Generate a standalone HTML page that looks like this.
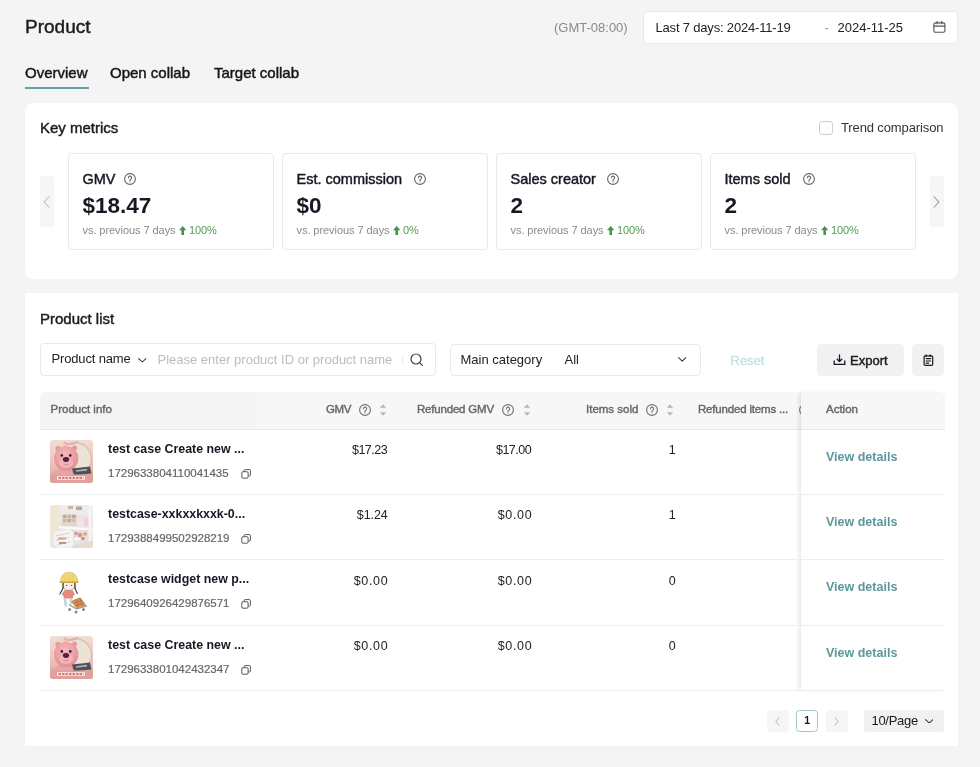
<!DOCTYPE html>
<html><head><meta charset="utf-8">
<style>
*{box-sizing:border-box;margin:0;padding:0}
html,body{width:980px;height:767px;overflow:hidden}
body{background:#f4f4f4;font-family:"Liberation Sans",Arial,sans-serif;color:#161823;position:relative}
.a{position:absolute;white-space:nowrap;line-height:1}
.med{-webkit-text-stroke:0.45px currentColor}
.card{position:absolute;background:#fff}
.box{position:absolute;border:1px solid #e9e9e9;border-radius:4px;background:#fff}
.mc{position:absolute;top:153px;width:206px;height:97px;border:1px solid #e8e8e8;border-radius:4px;background:#fff}
.mc .t{position:absolute;left:14px;top:17.5px;font-size:14.5px;line-height:1;white-space:nowrap}
.mc .v{position:absolute;left:14px;top:40.8px;font-size:22.5px;font-weight:700;line-height:1}
.mc .s{position:absolute;left:14px;top:71.4px;font-size:11px;color:#8a8a8a;letter-spacing:-.06px;line-height:1;white-space:nowrap}
.mc .s b{font-weight:400;color:#4f9c4f}
.q{display:inline-block;vertical-align:middle}
.arrowbtn{position:absolute;top:176px;width:14px;height:51px;background:#f6f6f6;border-radius:2px}
.hd{position:absolute;font-size:11.5px;color:#666;-webkit-text-stroke:.4px #666;line-height:1;white-space:nowrap}
.row{position:absolute;left:39px;width:905px;height:65px;border-bottom:1px solid #eeeeee}
.num{position:absolute;font-size:12.5px;letter-spacing:-.3px;line-height:1;text-align:right;white-space:nowrap;color:#222}
.vd{position:absolute;left:826px;font-size:12.5px;font-weight:700;color:#5b989c;line-height:1;-webkit-text-stroke:0 !important}
.row .img{position:absolute;left:11px;top:10px;width:43px;height:43px;border-radius:3px;overflow:hidden}
.row .ttl{left:69px;top:12.5px;font-size:12.4px;font-weight:700;color:#161823;-webkit-text-stroke:0 !important}
.row .pid{left:69px;top:37.5px;font-size:11.5px;color:#666;-webkit-text-stroke:.2px #666}
.row .cp{position:absolute;left:201.5px;top:38.5px;color:#555}
.row .vd{left:787px;top:20.5px}
.mc .qi{position:absolute;top:18.5px;color:#666}
.mc .up{display:inline-block;vertical-align:-1px;color:#46964a;margin:0 2.6px 0 .4px}
.hq{position:absolute;top:403.8px;color:#707070}
.hs{position:absolute;top:404.2px;color:#b5b5b5}
.actcol{position:absolute;left:800.5px;top:391.5px;width:144px;height:299px;background:#fff;border-radius:0 6px 0 0;box-shadow:-3px 0 4px -1px rgba(0,0,0,.10)}
.acthd{position:absolute;left:800.5px;top:391.5px;width:144px;height:38px;background:#f7f7f7;border-radius:0 6px 0 0;border-bottom:1px solid #e8e8e8}
</style></head>
<body>
<div id="wrap" style="position:absolute;left:0;top:0;width:980px;height:767px;will-change:transform">
<svg width="0" height="0" style="position:absolute">
<symbol id="i-q" viewBox="0 0 12 12"><circle cx="6" cy="6" r="5.4" fill="none" stroke="currentColor" stroke-width="1.1"/><path d="M4.45 4.7a1.6 1.6 0 1 1 2.3 1.45c-.5.25-.75.6-.75 1.1v.25" fill="none" stroke="currentColor" stroke-width="1.1" stroke-linecap="round"/><circle cx="6" cy="8.85" r=".7" fill="currentColor"/></symbol>
<symbol id="i-sort" viewBox="0 0 6 12"><path d="M3 .6 5.8 3.8H.2Z M3 11.4 5.8 8.4H.2Z" fill="currentColor" stroke="currentColor" stroke-width=".4" stroke-linejoin="round"/></symbol>
<symbol id="i-copy" viewBox="0 0 10 10"><rect x=".8" y="2.7" width="6.3" height="6.5" rx="1.2" fill="none" stroke="currentColor" stroke-width="1"/><path d="M3.2 2.3V1.6a1 1 0 0 1 1-1h4.2a1 1 0 0 1 1 1v4.3a1 1 0 0 1-1 1h-.9" fill="none" stroke="currentColor" stroke-width="1"/></symbol>
<symbol id="i-down" viewBox="0 0 10 6"><path d="M.7 .7 5 5 9.3 .7" fill="none" stroke="currentColor" stroke-width="1.2" stroke-linecap="round" stroke-linejoin="round"/></symbol>
<symbol id="i-left" viewBox="0 0 6 10"><path d="M5 .7 1 5 5 9.3" fill="none" stroke="currentColor" stroke-width="1" stroke-linecap="round" stroke-linejoin="round"/></symbol>
<symbol id="i-right" viewBox="0 0 6 10"><path d="M1 .7 5 5 1 9.3" fill="none" stroke="currentColor" stroke-width="1" stroke-linecap="round" stroke-linejoin="round"/></symbol>
<symbol id="i-up" viewBox="0 0 8 10"><path d="M4 0 8 4.6H5.4V10H2.6V4.6H0Z" fill="currentColor"/></symbol>
</svg>
<!-- header -->
<div class="a med" style="left:25px;top:17px;font-size:19px;color:#1c1c1c">Product</div>
<div class="a med" style="left:25px;top:64.5px;font-size:15px;color:#161616">Overview</div>
<div class="a med" style="left:110px;top:64.5px;font-size:15px;color:#161616">Open collab</div>
<div class="a med" style="left:214px;top:64.5px;font-size:15px;color:#161616">Target collab</div>
<div style="position:absolute;left:25px;top:86.5px;width:64px;height:2px;background:#5f9ea2"></div>

<div class="a" style="left:554px;top:20.5px;font-size:13px;color:#8a8a8a">(GMT-08:00)</div>
<div class="box" style="left:643px;top:11px;width:315px;height:32.5px">
  <div class="a" style="left:11.5px;top:8.5px;font-size:13px;color:#222;letter-spacing:-.18px">Last 7 days: 2024-11-19</div>
  <div class="a" style="left:180.5px;top:8.5px;font-size:13px;color:#999">-</div>
  <div class="a" style="left:193.5px;top:8.5px;font-size:13px;color:#222">2024-11-25</div>
</div>

<svg style="position:absolute;left:933px;top:20.5px" width="13" height="12" viewBox="0 0 13 12"><rect x="0.9" y="1.9" width="11" height="9.4" rx="1.6" fill="none" stroke="#555" stroke-width="1.1"/><path d="M0.9 5.1H11.9M4.1 .4V2.8M8.8 .4V2.8" stroke="#555" stroke-width="1.1" fill="none" stroke-linecap="round"/></svg>
<!-- key metrics card -->
<div class="card" style="left:25px;top:103px;width:933px;height:176px;border-radius:8px"></div>
<div class="a med" style="left:40px;top:119.5px;font-size:15px;color:#1c1c1c">Key metrics</div>
<div style="position:absolute;left:819px;top:121px;width:14px;height:14px;border:1px solid #cfcfcf;border-radius:3px;background:#fff"></div>
<div class="a" style="left:841px;top:120.5px;font-size:13px;color:#333;letter-spacing:-.12px">Trend comparison</div>
<div class="arrowbtn" style="left:39.5px"><svg style="position:absolute;left:3.6px;top:19.5px;color:#c8c8c8" width="7" height="12" viewBox="0 0 6 10" preserveAspectRatio="none"><use href="#i-left"/></svg></div>
<div class="arrowbtn" style="left:930px"><svg style="position:absolute;left:3.3px;top:19.5px;color:#a8a8a8" width="7" height="12" viewBox="0 0 6 10" preserveAspectRatio="none"><use href="#i-right"/></svg></div>

<div class="mc" style="left:67.5px"><div class="t med">GMV</div><svg class="qi" style="left:55.2px" width="12" height="12"><use href="#i-q"/></svg><div class="v">$18.47</div><div class="s">vs. previous 7 days <svg class="up" width="7.4" height="9" viewBox="0 0 8 10" preserveAspectRatio="none"><use href="#i-up"/></svg><b>100%</b></div></div>
<div class="mc" style="left:281.5px"><div class="t med">Est. commission</div><svg class="qi" style="left:131.8px" width="12" height="12"><use href="#i-q"/></svg><div class="v">$0</div><div class="s">vs. previous 7 days <svg class="up" width="7.4" height="9" viewBox="0 0 8 10" preserveAspectRatio="none"><use href="#i-up"/></svg><b>0%</b></div></div>
<div class="mc" style="left:495.5px"><div class="t med">Sales creator</div><svg class="qi" style="left:110px" width="12" height="12"><use href="#i-q"/></svg><div class="v">2</div><div class="s">vs. previous 7 days <svg class="up" width="7.4" height="9" viewBox="0 0 8 10" preserveAspectRatio="none"><use href="#i-up"/></svg><b>100%</b></div></div>
<div class="mc" style="left:709.5px"><div class="t med">Items sold</div><svg class="qi" style="left:92px" width="12" height="12"><use href="#i-q"/></svg><div class="v">2</div><div class="s">vs. previous 7 days <svg class="up" width="7.4" height="9" viewBox="0 0 8 10" preserveAspectRatio="none"><use href="#i-up"/></svg><b>100%</b></div></div>

<!-- product list card -->
<div class="card" style="left:25px;top:293px;width:933px;height:453px"></div>
<div class="a med" style="left:40px;top:311px;font-size:15px;color:#1c1c1c">Product list</div>
<div class="box" style="left:39.5px;top:343px;width:396px;height:32.5px">
  <div class="a" style="left:11px;top:8.3px;font-size:13px;color:#222;letter-spacing:-.15px">Product name</div>
  <svg style="position:absolute;left:97.5px;top:13.8px;color:#333" width="8.6" height="4.8" viewBox="0 0 10 6" preserveAspectRatio="none"><use href="#i-down"/></svg>
  <div class="a" style="left:117px;top:8.5px;font-size:13px;color:#bdbdbd">Please enter product ID or product name</div>
  <div style="position:absolute;left:361px;top:13px;width:1px;height:6px;background:#e3e3e3"></div>
  <svg style="position:absolute;left:369.5px;top:8.7px" width="14" height="14" viewBox="0 0 14 14"><circle cx="6" cy="6" r="5" fill="none" stroke="#444" stroke-width="1.2"/><path d="M9.6 9.6 12.4 12.4" stroke="#444" stroke-width="1.3" stroke-linecap="round"/></svg>
</div>
<div class="box" style="left:449.5px;top:343.5px;width:251.5px;height:32.5px">
  <div class="a" style="left:10px;top:8px;font-size:13px;color:#222">Main category</div>
  <div class="a" style="left:114px;top:8px;font-size:13px;color:#222">All</div>
  <svg style="position:absolute;left:227.8px;top:12.6px;color:#333" width="8.4" height="5" viewBox="0 0 10 6" preserveAspectRatio="none"><use href="#i-down"/></svg>
</div>
<div class="a" style="left:730.5px;top:354px;font-size:13px;color:#c5e0e2;-webkit-text-stroke:.3px #c5e0e2">Reset</div>
<div style="position:absolute;left:817px;top:344px;width:87px;height:32px;background:#f1f1f1;border-radius:4px"></div>
<svg style="position:absolute;left:833px;top:354px" width="13" height="12" viewBox="0 0 13 12"><path d="M1.2 7V10.4H11.8V7" fill="none" stroke="#161823" stroke-width="1.3" stroke-linecap="round" stroke-linejoin="round"/><path d="M6.5 1V7.3M4.2 5.2 6.5 7.5 8.8 5.2" fill="none" stroke="#161823" stroke-width="1.3" stroke-linecap="round" stroke-linejoin="round"/></svg>
<div class="a med" style="left:850px;top:354px;font-size:13px;color:#1c1c1c">Export</div>
<div style="position:absolute;left:911.5px;top:344px;width:32.5px;height:32px;background:#f1f1f1;border-radius:4px"></div>
<svg style="position:absolute;left:922.5px;top:353.5px" width="11" height="13" viewBox="0 0 11 13"><rect x="1.1" y="1.8" width="8.6" height="9.6" rx="1.2" fill="none" stroke="#161823" stroke-width="1.2"/><path d="M3 .8V2.4M7.2 .8V2.4M3.2 4.6H7.6M3.2 7H7.6M3.2 9.2H5.5" stroke="#161823" stroke-width="1.2" fill="none" stroke-linecap="round"/></svg>

<!-- table header -->
<div style="position:absolute;left:39.5px;top:391.5px;width:904.5px;height:38px;background:#f7f7f7;border-radius:6px 6px 0 0;border-bottom:1px solid #e8e8e8"></div>
<div style="position:absolute;left:39.5px;top:391.5px;width:215.5px;height:37.5px;background:#f4f4f4;border-radius:6px 0 0 0"></div>
<div class="hd med" style="left:50.5px;top:403.5px">Product info</div>
<div class="hd med" style="left:326px;top:403.5px;letter-spacing:-.4px">GMV</div>
<div class="hd med" style="left:417px;top:403.5px;letter-spacing:-.2px">Refunded GMV</div>
<div class="hd med" style="left:586px;top:403.5px">Items sold</div>
<div class="hd med" style="left:698px;top:403.5px;letter-spacing:-.18px">Refunded items ...</div>
<svg class="hq" style="left:358.7px" width="12" height="12"><use href="#i-q"/></svg>
<svg class="hs" style="left:379.7px" width="6" height="12"><use href="#i-sort"/></svg>
<svg class="hq" style="left:502.4px" width="12" height="12"><use href="#i-q"/></svg>
<svg class="hs" style="left:523.7px" width="6" height="12"><use href="#i-sort"/></svg>
<svg class="hq" style="left:646.2px" width="12" height="12"><use href="#i-q"/></svg>
<svg class="hs" style="left:667.2px" width="6" height="12"><use href="#i-sort"/></svg>
<svg class="hq" style="left:799px" width="12" height="12"><use href="#i-q"/></svg>
<div class="actcol"></div><div class="acthd"></div>
<div class="hd med" style="left:826px;top:403.5px">Action</div>

<div class="row" style="top:430.2px">
  <div class="img"><svg width="43" height="43" viewBox="0 0 43 43"><defs><linearGradient id="bg1" x1="0" y1="0" x2="0" y2="1"><stop offset="0" stop-color="#f2ddd6"/><stop offset=".55" stop-color="#ebc3bb"/><stop offset="1" stop-color="#de9f98"/></linearGradient><radialGradient id="bh1" cx=".45" cy=".35" r=".65"><stop offset="0" stop-color="#f5b8bb"/><stop offset="1" stop-color="#e48e97"/></radialGradient></defs>
<rect width="43" height="43" fill="url(#bg1)"/>
<circle cx="25" cy="19" r="17" fill="#dcb9a8"/><circle cx="25" cy="19" r="15.8" fill="#ebe4d6"/>
<path d="M4 22C5 10 10 4 16 3" stroke="#efd9a8" stroke-width="2" fill="none"/>
<path d="M14 2C17 5 24 5 28 1.5" stroke="#e2b2aa" stroke-width="2.2" fill="none"/>
<ellipse cx="17" cy="37" rx="17" ry="9" fill="#e9a4a6"/>
<circle cx="8" cy="8.5" r="2.6" fill="#e8979f"/><circle cx="24.5" cy="8" r="2.6" fill="#e8979f"/>
<ellipse cx="16.2" cy="18.5" rx="12.2" ry="12.6" fill="url(#bh1)"/>
<ellipse cx="16.2" cy="23" rx="7" ry="5" fill="#f3b4b6"/>
<circle cx="11.8" cy="15.4" r="1.3" fill="#2f2226"/><circle cx="20.3" cy="15.4" r="1.3" fill="#2f2226"/>
<ellipse cx="16" cy="19.5" rx="3.1" ry="2.4" fill="#5a1d44"/>
<path d="M13.5 24q2.6 1.8 5.2 0" stroke="#c97f85" stroke-width=".7" fill="none"/>
<path d="M22 28.5 40 26.5 41.5 33.5 24 35.5Z" fill="#4d5257"/>
<path d="M26 31 37 29.6" stroke="#aeb4bd" stroke-width="1.6"/>
<rect x="0" y="34.5" width="43" height="8.5" fill="#e0a19b"/>
<path d="M7 38h28" stroke="#fbeae6" stroke-width="3.4"/>
<path d="M8.5 38h25" stroke="#c9574f" stroke-width="1.3" stroke-dasharray="2.5 1"/>
</svg></div>
  <div class="a med ttl">test case Create new ...</div>
  <div class="a pid">1729633804110041435</div>
  <svg class="cp" width="10" height="10" viewBox="0 0 10 10"><use href="#i-copy"/></svg>
  <div class="num" style="right:556.8px;top:14px;letter-spacing:-0.5px">$17.23</div>
  <div class="num" style="right:412.8px;top:14px;letter-spacing:-0.5px">$17.00</div>
  <div class="num" style="right:268.3px;top:14px;letter-spacing:0px">1</div>
  <div class="a med vd">View details</div>
</div>
<div class="row" style="top:495.4px">
  <div class="img"><svg width="43" height="43" viewBox="0 0 43 43">
<rect width="43" height="43" fill="#ebe6e2"/>
<path d="M0 0H10L8 24 0 30Z" fill="#efe7d2"/>
<rect x="10" y="0" width="33" height="10" fill="#eeebee"/>
<rect x="18" y="1" width="5" height="3" fill="#c9b8a8"/><rect x="26" y="1.5" width="6" height="3.5" fill="#bba493"/>
<rect x="12" y="9" width="15" height="12" fill="#e2d6ca"/>
<rect x="13" y="10" width="3.5" height="3" fill="#c4a996"/><rect x="17.5" y="10" width="3.5" height="3" fill="#cbb3a0"/><rect x="22" y="10" width="3.5" height="3" fill="#bfa28d"/>
<rect x="13" y="14" width="3.5" height="3" fill="#cdb5a3"/><rect x="17.5" y="14" width="3.5" height="3" fill="#c2a693"/><rect x="22" y="14" width="3.5" height="3" fill="#d1bcab"/>
<rect x="27" y="13" width="7" height="8" fill="#efe4e8"/><rect x="34" y="13" width="7" height="8" fill="#ecd3da"/>
<path d="M9 22 43 25" stroke="#faf8f8" stroke-width="2.5"/>
<rect x="22" y="25" width="18" height="12" fill="#e9dedb"/>
<circle cx="30" cy="30" r="2.2" fill="#d9909a"/><circle cx="35" cy="29" r="1.8" fill="#e0a76a"/><circle cx="26" cy="28.5" r="1.8" fill="#c99a96"/><circle cx="33" cy="33.5" r="1.5" fill="#b07b86"/>
<ellipse cx="27" cy="34" rx="3.5" ry="1.8" fill="#f8f6f6"/>
<path d="M5 27 18 24 23 27 23 41 9 43 4 39Z" fill="#f6f3f4"/>
<path d="M6 31 19 28M6 35.5 19 32.5M7 40 20 37" stroke="#d8cdcc" stroke-width="1"/>
<rect x="8" y="32.5" width="8" height="2" fill="#c8a596"/><rect x="9" y="37" width="7" height="2" fill="#b99588"/>
<path d="M23 40 43 36 43 43 22 43Z" fill="#e6dccf"/>
<path d="M40 0V36" stroke="#f5f3f6" stroke-width="3"/>
</svg></div>
  <div class="a med ttl">testcase-xxkxxkxxk-0...</div>
  <div class="a pid">1729388499502928219</div>
  <svg class="cp" width="10" height="10" viewBox="0 0 10 10"><use href="#i-copy"/></svg>
  <div class="num" style="right:556.4px;top:14px;letter-spacing:-0.1px">$1.24</div>
  <div class="num" style="right:411.6px;top:14px;letter-spacing:0.7px">$0.00</div>
  <div class="num" style="right:268.3px;top:14px;letter-spacing:0px">1</div>
  <div class="a med vd">View details</div>
</div>
<div class="row" style="top:560.8px">
  <div class="img"><svg width="43" height="43" viewBox="0 0 43 43">
<rect width="43" height="43" fill="#fff"/>
<path d="M13 17C12 19.5 11 21.5 9.8 23M25 17C25.8 19.5 26.6 21.2 27.4 22.5" stroke="#3a3a3a" stroke-width="1.1" fill="none" stroke-linecap="round"/>
<path d="M13.2 10.5C12.8 17.5 14.5 19.2 19 19.2S25.3 17.5 24.8 10.5Z" fill="#fcefe7" stroke="#6b5a55" stroke-width=".45"/>
<path d="M13.2 11.5C12.9 13.5 12.9 15.5 13 17.5M24.8 11.5C25.1 13.5 25.1 15.5 25 17.5" stroke="#3a3a3a" stroke-width="1.2" fill="none"/>
<path d="M10.6 11.2C10.6 4.5 14 1.4 19 1.4S27.6 4.5 27.6 11.2Z" fill="#f0d873" stroke="#c9ad4a" stroke-width=".6"/>
<path d="M15 3.5 15.5 10.5M19 1.8V10.5M23 3.5 22.5 10.5" stroke="#dcc25a" stroke-width=".5"/>
<path d="M10.2 11.3H28" stroke="#c8aa45" stroke-width="1.4" stroke-linecap="round"/>
<circle cx="16.6" cy="14.3" r=".65" fill="#333"/><circle cx="21.6" cy="14.3" r=".65" fill="#333"/>
<path d="M14.5 19.5 12 23.5 13.6 24.5 14.2 27.3H22.5L23.2 24 24.5 23.5 22.5 19.5Z" fill="#e9887b" stroke="#b96e63" stroke-width=".4"/>
<path d="M14.8 27.3 16 35.5M20.5 27.3 21.5 33" stroke="#cdd2da" stroke-width="2.8"/>
<path d="M21 30.5 30.5 26.5 36.5 34.5 26.5 37.5Z" fill="#d9925b"/>
<path d="M22.5 30 29.8 27M23.8 32.5 32 29.2M25.2 35 34 31.8M26 28.5 28.5 36.5M30 27.5 32.5 35" stroke="#b0663a" stroke-width=".7"/>
<path d="M19 33.5 26.5 38 37 35" stroke="#8d8d92" stroke-width="1.1" fill="none"/>
<circle cx="19.6" cy="38.5" r="1.5" fill="#8a8a8e"/><circle cx="26" cy="41" r="1.5" fill="#8a8a8e"/><circle cx="33.5" cy="38.5" r="1.5" fill="#8a8a8e"/>
</svg></div>
  <div class="a med ttl">testcase widget new p...</div>
  <div class="a pid">1729640926429876571</div>
  <svg class="cp" width="10" height="10" viewBox="0 0 10 10"><use href="#i-copy"/></svg>
  <div class="num" style="right:555.6px;top:14px;letter-spacing:0.7px">$0.00</div>
  <div class="num" style="right:411.6px;top:14px;letter-spacing:0.7px">$0.00</div>
  <div class="num" style="right:268.3px;top:14px;letter-spacing:0px">0</div>
  <div class="a med vd">View details</div>
</div>
<div class="row" style="top:626px">
  <div class="img"><svg width="43" height="43" viewBox="0 0 43 43"><defs><linearGradient id="bg2" x1="0" y1="0" x2="0" y2="1"><stop offset="0" stop-color="#f2ddd6"/><stop offset=".55" stop-color="#ebc3bb"/><stop offset="1" stop-color="#de9f98"/></linearGradient><radialGradient id="bh2" cx=".45" cy=".35" r=".65"><stop offset="0" stop-color="#f5b8bb"/><stop offset="1" stop-color="#e48e97"/></radialGradient></defs>
<rect width="43" height="43" fill="url(#bg2)"/>
<circle cx="25" cy="19" r="17" fill="#dcb9a8"/><circle cx="25" cy="19" r="15.8" fill="#ebe4d6"/>
<path d="M4 22C5 10 10 4 16 3" stroke="#efd9a8" stroke-width="2" fill="none"/>
<path d="M14 2C17 5 24 5 28 1.5" stroke="#e2b2aa" stroke-width="2.2" fill="none"/>
<ellipse cx="17" cy="37" rx="17" ry="9" fill="#e9a4a6"/>
<circle cx="8" cy="8.5" r="2.6" fill="#e8979f"/><circle cx="24.5" cy="8" r="2.6" fill="#e8979f"/>
<ellipse cx="16.2" cy="18.5" rx="12.2" ry="12.6" fill="url(#bh2)"/>
<ellipse cx="16.2" cy="23" rx="7" ry="5" fill="#f3b4b6"/>
<circle cx="11.8" cy="15.4" r="1.3" fill="#2f2226"/><circle cx="20.3" cy="15.4" r="1.3" fill="#2f2226"/>
<ellipse cx="16" cy="19.5" rx="3.1" ry="2.4" fill="#5a1d44"/>
<path d="M13.5 24q2.6 1.8 5.2 0" stroke="#c97f85" stroke-width=".7" fill="none"/>
<path d="M22 28.5 40 26.5 41.5 33.5 24 35.5Z" fill="#4d5257"/>
<path d="M26 31 37 29.6" stroke="#aeb4bd" stroke-width="1.6"/>
<rect x="0" y="34.5" width="43" height="8.5" fill="#e0a19b"/>
<path d="M7 38h28" stroke="#fbeae6" stroke-width="3.4"/>
<path d="M8.5 38h25" stroke="#c9574f" stroke-width="1.3" stroke-dasharray="2.5 1"/>
</svg></div>
  <div class="a med ttl">test case Create new ...</div>
  <div class="a pid">1729633801042432347</div>
  <svg class="cp" width="10" height="10" viewBox="0 0 10 10"><use href="#i-copy"/></svg>
  <div class="num" style="right:555.6px;top:14px;letter-spacing:0.7px">$0.00</div>
  <div class="num" style="right:411.6px;top:14px;letter-spacing:0.7px">$0.00</div>
  <div class="num" style="right:268.3px;top:14px;letter-spacing:0px">0</div>
  <div class="a med vd">View details</div>
</div>
<!-- pagination -->
<div style="position:absolute;left:767px;top:710px;width:22px;height:21.5px;background:#f6f6f6;border-radius:3px"><svg style="position:absolute;left:8px;top:7px;color:#aaa" width="5" height="9" viewBox="0 0 6 10" preserveAspectRatio="none"><use href="#i-left"/></svg></div>
<div style="position:absolute;left:796px;top:710px;width:22px;height:21.5px;border:1px solid #a3c8cb;border-radius:3.5px;background:#fff"></div>
<div class="a" style="left:804.2px;top:715px;font-size:10.5px;font-weight:700;color:#161823">1</div>
<div style="position:absolute;left:825.5px;top:710px;width:22px;height:21.5px;background:#f6f6f6;border-radius:3px"><svg style="position:absolute;left:8px;top:7px;color:#aaa" width="5" height="9" viewBox="0 0 6 10" preserveAspectRatio="none"><use href="#i-right"/></svg></div>
<div style="position:absolute;left:864px;top:710px;width:80px;height:21.5px;background:#f1f1f1;border-radius:3px"></div>
<div class="a" style="left:871.5px;top:713.5px;font-size:13px;color:#161823;letter-spacing:-.3px">10/Page</div>
<svg style="position:absolute;left:924.5px;top:718.6px;color:#333" width="8.6" height="4.8" viewBox="0 0 10 6" preserveAspectRatio="none"><use href="#i-down"/></svg>
</div>
</body></html>
